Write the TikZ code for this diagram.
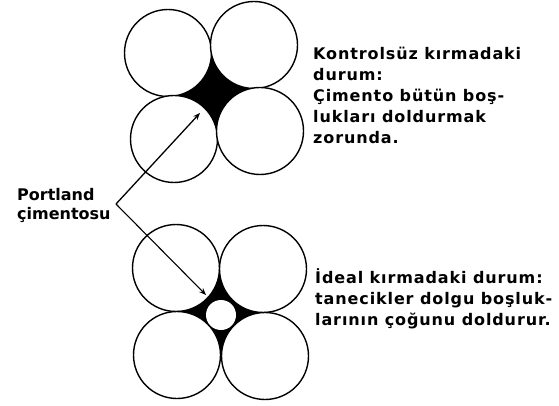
\documentclass[tikz,border=0pt]{standalone}
\usepackage{fontspec}
\setmainfont{DejaVu Sans}
\newfontfamily\lblfont{DejaVu Sans Bold}
\newfontfamily\widefont[LetterSpace=5.5]{DejaVu Sans Bold}
\usetikzlibrary{arrows.meta}
\tikzset{
  ball/.style={circle, draw, fill=white, line width=1.4pt, minimum size=87pt, inner sep=0pt},
  pore/.style={circle, fill=white, minimum size=30pt, inner sep=0pt},
  pointer/.style={line width=1.3pt, -{Stealth[length=7pt,width=5.5pt]}},
  leftlbl/.style={anchor=north west, align=left, inner sep=0pt, font=\lblfont\fontsize{16}{19}\selectfont},
  rightlbl/.style={anchor=north west, align=left, inner sep=0pt, font=\widefont\fontsize{16}{21}\selectfont}
}
\begin{document}
\begin{tikzpicture}[x=1pt,y=-1pt]
\useasboundingbox (0,0) rectangle (559,406);
% top group (uncontrolled crushing)
\coordinate (a1) at (168,53);
\coordinate (a2) at (254,45);
\coordinate (a3) at (174,139);
\coordinate (a4) at (260,131);
\fill (a1) -- (a2) -- (a4) -- (a3) -- cycle;
\node[ball] (A1) at (a1) {};
\node[ball] (A2) at (a2) {};
\node[ball] (A3) at (a3) {};
\node[ball] (A4) at (a4) {};
% bottom group (ideal crushing)
\coordinate (b1) at (176,268);
\coordinate (b2) at (263,269);
\coordinate (b3) at (177,355);
\coordinate (b4) at (265,356);
\fill (b1) -- (b2) -- (b4) -- (b3) -- cycle;
\node[ball] (B1) at (b1) {};
\node[ball] (B2) at (b2) {};
\node[ball] (B3) at (b3) {};
\node[ball] (B4) at (b4) {};
\node[pore] (P) at (221,315) {};
% labels
\node[leftlbl] (cem) at (17,188) {Portland\\çimentosu};
\node[rightlbl] (txtA) at (313,47) {Kontrolsüz kırmadaki\\durum:\\Çimento bütün boş-\\lukları doldurmak\\zorunda.};
\node[rightlbl] (txtB) at (315,268) {İdeal kırmadaki durum:\\tanecikler dolgu boşluk-\\larının çoğunu doldurur.};
% pointers
\coordinate (v) at (116,204);
\coordinate (tA) at (200,113);
\coordinate (tB) at (206,295);
\draw[pointer] (v) -- (tA);
\draw[pointer, line width=1.1pt] (v) -- (tB);
\end{tikzpicture}
\end{document}
